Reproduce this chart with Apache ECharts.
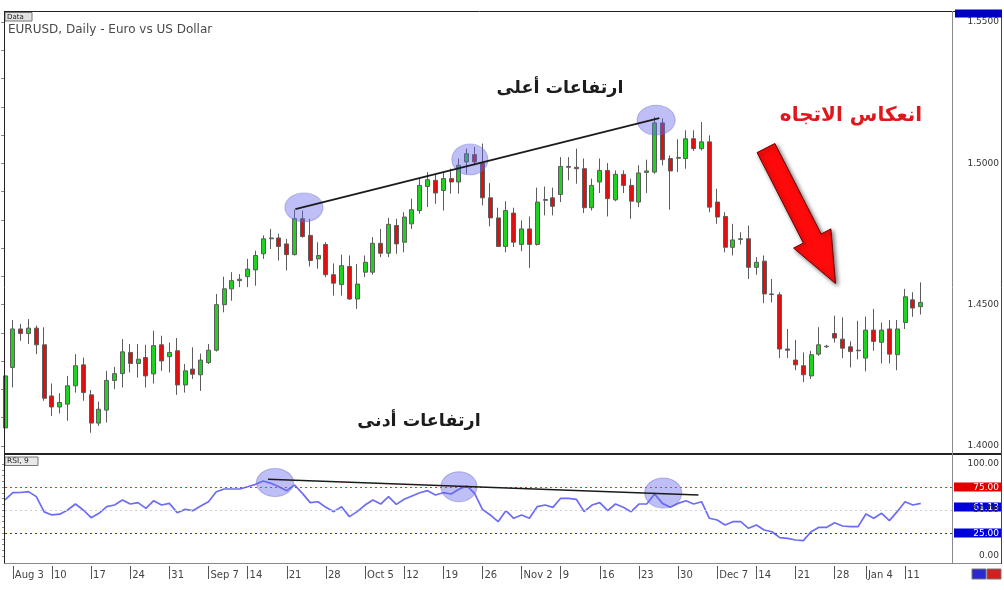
<!DOCTYPE html>
<html><head><meta charset="utf-8">
<script src="https://cdn.jsdelivr.net/npm/echarts@6/dist/echarts.min.js"></script>
<style>html,body{margin:0;padding:0;background:#fff}#c{width:1004px;height:590px}</style>
</head><body><div id="c"></div>
<script>
const categories = ['07-31',
'08-03','08-04','08-05','08-06','08-07','08-10','08-11','08-12','08-13','08-14','08-17','08-18','08-19','08-20','08-21','08-24','08-25','08-26','08-27','08-28','08-31',
'09-01','09-02','09-03','09-04','09-07','09-08','09-09','09-10','09-11','09-14','09-15','09-16','09-17','09-18','09-21','09-22','09-23','09-24','09-25','09-28','09-29','09-30',
'10-01','10-02','10-05','10-06','10-07','10-08','10-09','10-12','10-13','10-14','10-15','10-16','10-19','10-20','10-21','10-22','10-23','10-26','10-27','10-28','10-29','10-30',
'11-02','11-03','11-04','11-05','11-06','11-09','11-10','11-11','11-12','11-13','11-16','11-17','11-18','11-19','11-20','11-23','11-24','11-25','11-26','11-27','11-30',
'12-01','12-02','12-03','12-04','12-07','12-08','12-09','12-10','12-11','12-14','12-15','12-16','12-17','12-18','12-21','12-22','12-23','12-24','12-25','12-28','12-29','12-30','12-31',
'01-04','01-05','01-06','01-07','01-08','01-11','01-12','01-13'];
const rightShift = ['01-14','01-15','01-18','01-19'];

const openP = [1.4064,1.4278,1.4414,1.4398,1.4417,1.4358,1.4177,1.4138,1.4148,1.4213,
1.4287,1.4181,1.4081,1.4127,1.4232,1.4256,1.4331,1.4292,1.4313,1.4255,
1.4358,1.4316,1.4337,1.4216,1.4272,1.4252,1.4295,1.4339,1.4500,1.4556,
1.4585,1.4599,1.4623,1.4680,1.4733,1.4736,1.4715,1.4677,1.4804,1.4745,
1.4662,1.4713,1.4606,1.4571,1.4635,1.4520,1.4615,1.4615,1.4717,1.4682,
1.4780,1.4721,1.4786,1.4833,1.4918,1.4940,1.4904,1.4946,1.4934,1.5005,
1.5031,1.5001,1.4878,1.4807,1.4706,1.4824,1.4713,1.4768,1.4713,1.4869,
1.4878,1.4890,1.4989,1.4986,1.4981,1.4843,1.4934,1.4975,1.4871,1.4961,
1.4922,1.4863,1.4968,1.4969,1.5143,1.5017,1.5018,1.5017,1.5087,1.5052,
1.5076,1.4863,1.4812,1.4703,1.4731,1.4733,1.4632,1.4654,1.4538,1.4535,
1.4343,1.4304,1.4284,1.4248,1.4325,1.4351,1.4398,1.4378,1.4351,1.4339,
1.4311,1.4410,1.4367,1.4414,1.4323,1.4437,1.4517,1.4493];
const closeP = [1.4248,1.4414,1.4398,1.4417,1.4358,1.4169,1.4138,1.4154,1.4213,1.4284,
1.4189,1.4081,1.4130,1.4232,1.4256,1.4333,1.4292,1.4307,1.4248,1.4355,
1.4301,1.4331,1.4216,1.4266,1.4254,1.4304,1.4339,1.4500,1.4556,1.4585,
1.4590,1.4626,1.4674,1.4733,1.4736,1.4706,1.4677,1.4804,1.4741,1.4656,
1.4674,1.4606,1.4576,1.4638,1.4520,1.4573,1.4650,1.4717,1.4682,1.4784,
1.4715,1.4810,1.4836,1.4922,1.4942,1.4895,1.4946,1.4934,1.4993,1.5034,
1.5005,1.4878,1.4807,1.4706,1.4833,1.4721,1.4768,1.4713,1.4863,1.4872,
1.4848,1.4989,1.4986,1.4981,1.4843,1.4922,1.4975,1.4875,1.4961,1.4922,
1.4866,1.4966,1.4973,1.5143,1.5013,1.4973,1.5021,1.5087,1.5052,1.5076,
1.4845,1.4810,1.4703,1.4729,1.4733,1.4632,1.4650,1.4538,1.4536,1.4343,
1.4339,1.4287,1.4252,1.4323,1.4358,1.4353,1.4382,1.4346,1.4334,1.4337,
1.4410,1.4370,1.4410,1.4325,1.4414,1.4528,1.4488,1.4508];
const lowP = [1.4060,1.4207,1.4372,1.4361,1.4325,1.4160,1.4106,1.4115,1.4089,1.4189,
1.4160,1.4047,1.4071,1.4083,1.4201,1.4207,1.4260,1.4242,1.4207,1.4221,
1.4266,1.4260,1.4181,1.4189,1.4237,1.4195,1.4290,1.4334,1.4473,1.4514,
1.4562,1.4562,1.4567,1.4662,1.4697,1.4656,1.4621,1.4674,1.4737,1.4635,
1.4627,1.4597,1.4532,1.4532,1.4517,1.4485,1.4597,1.4606,1.4668,1.4668,
1.4680,1.4685,1.4768,1.4822,1.4845,1.4857,1.4833,1.4893,1.4893,1.4963,
1.4993,1.4851,1.4777,1.4704,1.4685,1.4704,1.4689,1.4630,1.4709,1.4816,
1.4816,1.4863,1.4940,1.4928,1.4824,1.4833,1.4895,1.4812,1.4866,1.4895,
1.4804,1.4845,1.4895,1.4963,1.4993,1.4836,1.4969,1.4981,1.5044,1.5046,
1.4827,1.4786,1.4685,1.4674,1.4713,1.4591,1.4606,1.4505,1.4508,1.4311,
1.4311,1.4268,1.4226,1.4237,1.4319,1.4347,1.4366,1.4311,1.4278,1.4307,
1.4264,1.4337,1.4292,1.4292,1.4268,1.4414,1.4457,1.4465];
const highP = [1.4277,1.4446,1.4432,1.4449,1.4426,1.4420,1.4221,1.4187,1.4248,1.4325,
1.4313,1.4198,1.4157,1.4266,1.4280,1.4378,1.4361,1.4361,1.4358,1.4408,
1.4390,1.4366,1.4382,1.4290,1.4349,1.4327,1.4361,1.4538,1.4599,1.4615,
1.4608,1.4662,1.4691,1.4745,1.4768,1.4751,1.4733,1.4836,1.4833,1.4804,
1.4721,1.4721,1.4646,1.4677,1.4674,1.4644,1.4674,1.4739,1.4768,1.4807,
1.4804,1.4827,1.4875,1.4946,1.4969,1.4963,1.4969,1.4981,1.5017,1.5052,
1.5058,1.5070,1.4930,1.4843,1.4866,1.4843,1.4798,1.4812,1.4914,1.4918,
1.4914,1.5022,1.5022,1.5052,1.5017,1.4946,1.5017,1.5001,1.4975,1.4975,
1.4946,1.4993,1.5013,1.5164,1.5159,1.5028,1.5085,1.5117,1.5117,1.5146,
1.5099,1.4910,1.4827,1.4786,1.4756,1.4780,1.4668,1.4674,1.4591,1.4544,
1.4414,1.4375,1.4331,1.4337,1.4420,1.4358,1.4461,1.4455,1.4370,1.4443,
1.4458,1.4485,1.4437,1.4446,1.4446,1.4556,1.4544,1.4579];
const rsi9 = [60.9,68.8,69.0,70.0,64.5,48.0,44.6,45.5,50.0,56.5,
50.0,41.7,46.4,53.6,55.4,60.9,56.5,58.0,51.8,60.1,
55.4,57.2,47.1,50.7,49.3,54.3,59.0,69.9,72.8,72.8,
72.8,75.3,77.9,81.5,79.0,75.3,71.0,77.2,68.1,58.0,
59.0,52.9,48.2,53.6,42.8,48.2,55.4,60.9,56.5,64.5,
56.1,61.6,65.2,68.8,71.0,66.3,68.8,67.4,72.5,76.1,
68.0,50.7,44.6,37.3,49.3,41.0,44.6,41.0,53.6,55.4,
52.9,62.7,62.7,61.6,48.2,55.4,58.0,49.3,56.5,52.9,
48.2,56.5,56.5,67.4,57.2,52.9,57.2,60.1,56.5,59.0,
41.0,39.1,33.7,37.3,37.3,30.1,33.7,28.3,26.4,19.9,
19.2,17.4,16.7,26.4,31.2,31.2,36.2,32.6,31.9,31.9,
45.7,41.0,46.4,38.4,48.2,59.0,55.4,57.2];

const tickDates = ['08-03','08-10','08-17','08-24','08-31','09-07','09-14','09-21','09-28','10-05','10-12','10-19','10-26','11-02','11-09','11-16','11-23','11-30','12-07','12-14','12-21','12-28','01-04','01-11'];
const tickText  = ['Aug 3','10','17','24','31','Sep 7','14','21','28','Oct 5','12','19','26','Nov 2','9','16','23','30','Dec 7','14','21','28','Jan 4','11'];

// annotation anchors [barIndex, value]
const priceTrend = [[37.1, 1.4838], [83.6, 1.5160]];
const rsiTrend = [[33.6, 83.4], [88.6, 66.3]];
const priceCircles = [[38.2, 1.4844], [59.4, 1.5014], [83.2, 1.5153]];
const rsiCircles = [[34.5, 79.9], [58.0, 75.3], [84.1, 68.5]];
const rsiLevels = [75, 50, 25];
const rsiLastLabel = '61.13';

const allCats = categories.concat(rightShift);
const nMax = allCats.length - 1;
const candleData = openP.map((o, i) => [o, closeP[i], lowP[i], highP[i]]);
const tickMap = {};
tickDates.forEach((d, i) => { tickMap[d] = tickText[i]; });

const FONT = 'DejaVu Sans';
const chart = echarts.init(document.getElementById('c'), null, {renderer: 'canvas'});
const L = 5, R = 52;

const option = {
  animation: false,
  backgroundColor: '#ffffff',
  grid: [
    {left: L, right: R, top: 22, bottom: 144},
    {left: L, right: R, top: 464, bottom: 34},
    {left: L, right: R, top: 565, bottom: 24}
  ],
  xAxis: [
    {type: 'category', gridIndex: 0, data: allCats, boundaryGap: false, show: false},
    {type: 'category', gridIndex: 1, data: allCats, boundaryGap: false, show: false},
    {type: 'category', gridIndex: 2, data: allCats, boundaryGap: false, position: 'bottom',
     axisLine: {show: false},
     axisTick: {show: true, length: 13, interval: (i, v) => tickMap[v] !== undefined, lineStyle: {color: '#555', width: 1}},
     axisLabel: {interval: (i, v) => tickMap[v] !== undefined, formatter: v => tickMap[v] || '',
       align: 'left', margin: 4, padding: [0, 0, 0, 2], color: '#444', fontSize: 10, fontFamily: FONT}},
    {type: 'value', gridIndex: 0, min: 0, max: nMax, show: false},
    {type: 'value', gridIndex: 1, min: 0, max: nMax, show: false}
  ],
  yAxis: [
    {type: 'value', gridIndex: 0, position: 'right', min: 1.40, max: 1.55, interval: 0.01,
     axisLine: {show: false}, splitLine: {show: false},
     axisTick: {show: true, inside: true, length: 4, lineStyle: {color: '#888'}},
     axisLabel: {formatter: v => (Math.round(v * 1000) % 50 === 0) ? v.toFixed(4) : '',
       align: 'right', margin: 47, color: '#333', fontSize: 9, fontFamily: FONT}},
    {type: 'value', gridIndex: 1, position: 'right', min: 0, max: 100, interval: 6.25,
     axisLine: {show: false}, splitLine: {show: false},
     axisTick: {show: true, inside: true, length: 3, lineStyle: {color: '#888'}},
     axisLabel: {formatter: v => (v === 0 || v === 50 || v === 100) ? v.toFixed(2) : '',
       align: 'right', margin: 47, color: '#333', fontSize: 9, fontFamily: FONT}},
    {type: 'value', gridIndex: 2, show: false}
  ],
  series: [
    {type: 'candlestick', xAxisIndex: 0, yAxisIndex: 0, data: candleData, barWidth: 4.5, clip: true,
     itemStyle: {color: '#1fd21f', color0: '#e01010', borderColor: '#5c5c5c', borderColor0: '#5c5c5c', borderWidth: 1}},
    {type: 'line', xAxisIndex: 1, yAxisIndex: 1, data: rsi9, symbol: 'none', z: 3,
     lineStyle: {color: '#6c6cf6', width: 1.7},
     markLine: {silent: true, symbol: 'none', label: {show: false},
       data: [
         {yAxis: rsiLevels[0], lineStyle: {color: '#ff2a2a', type: [2, 3], width: 1}},
         {yAxis: rsiLevels[1], lineStyle: {color: '#cfcfcf', type: [2, 3], width: 1}},
         {yAxis: rsiLevels[2], lineStyle: {color: '#2a2aff', type: [2, 3], width: 1}}
       ]}},
    {type: 'scatter', xAxisIndex: 3, yAxisIndex: 0, symbol: 'circle', z: 5, silent: true,
     data: priceCircles.map((p, i) => ({value: p, symbolSize: [[38, 29], [36, 31], [38, 30]][i]})),
     itemStyle: {color: 'rgba(100,100,235,0.52)', borderColor: 'rgba(110,110,200,0.55)', borderWidth: 1}},
    {type: 'scatter', xAxisIndex: 4, yAxisIndex: 1, symbol: 'circle', z: 5, silent: true,
     data: rsiCircles.map((p, i) => ({value: p, symbolSize: [[37, 28], [36, 30], [37, 30]][i]})),
     itemStyle: {color: 'rgba(100,100,235,0.52)', borderColor: 'rgba(110,110,200,0.55)', borderWidth: 1}},
    {type: 'line', xAxisIndex: 3, yAxisIndex: 0, data: priceTrend, symbol: 'none', z: 6, silent: true,
     lineStyle: {color: '#1a1a1a', width: 1.6}},
    {type: 'line', xAxisIndex: 4, yAxisIndex: 1, data: rsiTrend, symbol: 'none', z: 6, silent: true,
     lineStyle: {color: '#1a1a1a', width: 1.6}}
  ]
};
chart.setOption(option);

const y75 = chart.convertToPixel({yAxisIndex: 1}, rsiLevels[0]);
const y25 = chart.convertToPixel({yAxisIndex: 1}, rsiLevels[2]);
const y50 = chart.convertToPixel({yAxisIndex: 1}, rsiLevels[1]);

function lineEl(x1, y1, x2, y2, color, w) {
  return {type: 'line', silent: true, z: 20, shape: {x1, y1, x2, y2}, style: {stroke: color, lineWidth: w}};
}
function boxLabel(x, y, w, h, fill, txt, tx, color, size, align) {
  return {type: 'group', z: 30, silent: true, children: [
    {type: 'rect', shape: {x, y, width: w, height: h}, style: {fill: fill, stroke: null}},
    {type: 'text', style: {x: tx, y: y + h / 2 + 0.5, text: txt, fill: color, font: size + 'px "' + FONT + '"', textAlign: align, textVerticalAlign: 'middle'}}
  ]};
}

const ax = Math.round(chart.getWidth() - R) + 0.5;
const arrow = [[774.9,143.5],[821.2,234.0],[830.9,228.9],[835.5,283.5],[793.6,248.1],[803.4,243.1],[757.1,152.6]];

chart.setOption({graphic: [
  lineEl(4, 11.5, 955, 11.5, '#222', 1),
  lineEl(4.5, 11, 4.5, 564, '#222', 1),
  lineEl(4, 454, 1002, 454, '#222', 2),
  lineEl(4, 563.5, 1002, 563.5, '#888', 1),
  lineEl(ax, 11, ax, 564, '#8a8a8a', 1),
  lineEl(1001.5, 11, 1001.5, 564, '#444', 1),
  {type: 'rect', z: 30, silent: true, shape: {x: 955, y: 9.5, width: 47, height: 8}, style: {fill: '#0000c0'}},
  boxLabel(ax + 1.5, y75 - 4.5, 1001 - ax - 1.5, 9, '#e00000', '75.00', 999, '#fff', 9, 'right'),
  boxLabel(ax + 1.5, y25 - 4.5, 1001 - ax - 1.5, 9, '#0000dd', '25.00', 999, '#fff', 9, 'right'),
  boxLabel(ax + 1.5, y50 - 7.5, 1001 - ax - 1.5, 9, '#0000dd', rsiLastLabel, 999, '#fff', 9, 'right'),
  {type: 'rect', z: 30, silent: true, shape: {x: 972, y: 569, width: 14, height: 10}, style: {fill: '#2a2ad0', stroke: '#777'}},
  {type: 'rect', z: 30, silent: true, shape: {x: 987, y: 569, width: 14, height: 10}, style: {fill: '#d02020', stroke: '#777'}},
  {type: 'group', z: 30, silent: true, children: [
    {type: 'rect', shape: {x: 5, y: 12.5, width: 27, height: 8.5}, style: {fill: '#e2e2e2', stroke: '#777', lineWidth: 1}},
    {type: 'text', style: {x: 7, y: 17, text: 'Data', fill: '#222', font: '7px "' + FONT + '"', textVerticalAlign: 'middle'}}
  ]},
  {type: 'text', z: 30, silent: true, style: {x: 8, y: 30, text: 'EURUSD, Daily - Euro vs US Dollar', fill: '#4a4a4a', font: '12px "' + FONT + '"', textVerticalAlign: 'middle'}},
  {type: 'group', z: 30, silent: true, children: [
    {type: 'rect', shape: {x: 5, y: 457, width: 33, height: 8.5}, style: {fill: '#e8e8e8', stroke: '#777', lineWidth: 1}},
    {type: 'text', style: {x: 7, y: 461.5, text: 'RSI, 9', fill: '#222', font: '7.5px "' + FONT + '"', textVerticalAlign: 'middle'}}
  ]},
  {type: 'text', z: 30, silent: true, style: {x: 560, y: 88, text: 'ارتفاعات أعلى', fill: '#1c1c1c', font: 'bold 17.5px "' + FONT + '"', textAlign: 'center', textVerticalAlign: 'middle'}},
  {type: 'text', z: 30, silent: true, style: {x: 419, y: 421, text: 'ارتفاعات أدنى', fill: '#1c1c1c', font: 'bold 17.5px "' + FONT + '"', textAlign: 'center', textVerticalAlign: 'middle'}},
  {type: 'text', z: 30, silent: true, style: {x: 851, y: 116, text: 'انعكاس الاتجاه', fill: '#e3171b', font: 'bold 20px "' + FONT + '"', textAlign: 'center', textVerticalAlign: 'middle'}},
  {type: 'polygon', z: 30, silent: true, shape: {points: arrow},
   style: {fill: '#ff0a0a', stroke: '#6a0000', lineWidth: 1, shadowBlur: 4, shadowColor: 'rgba(0,0,0,0.55)', shadowOffsetX: 2, shadowOffsetY: 2}}
]});
</script></body></html>
